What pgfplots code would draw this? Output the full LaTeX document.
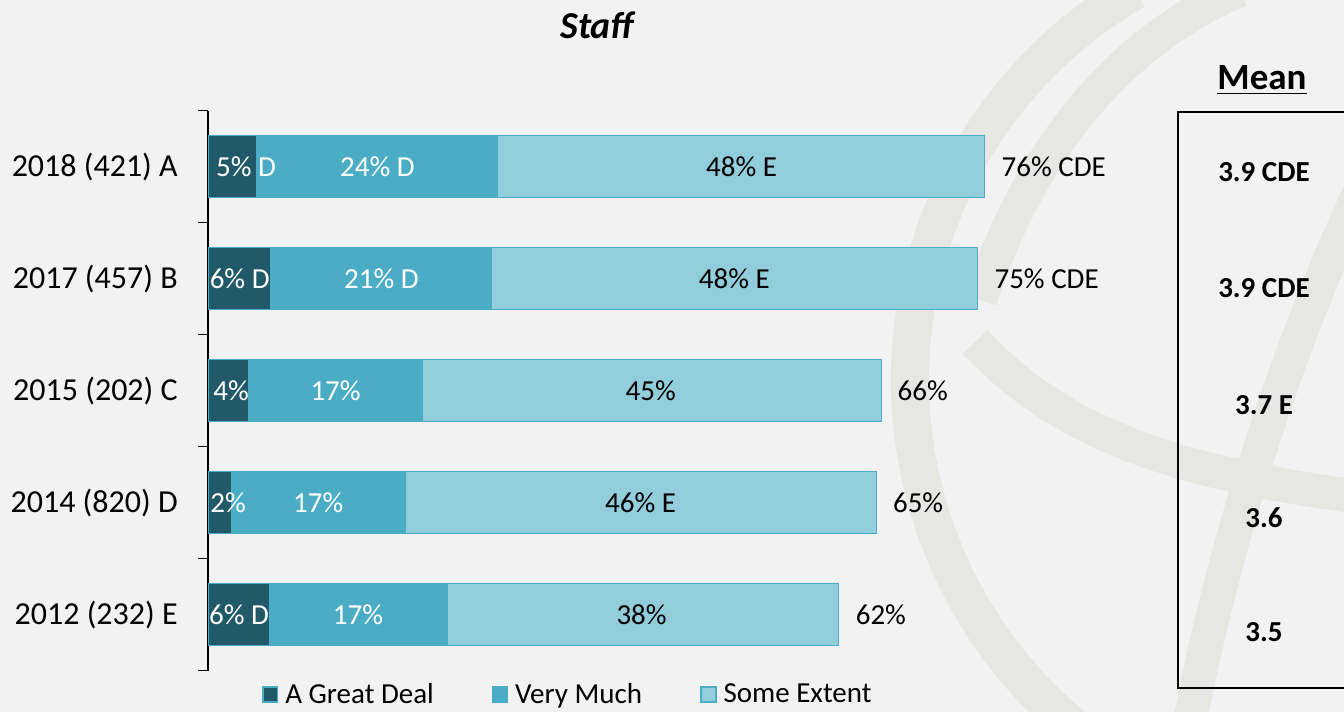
\documentclass[border=0pt]{standalone}
\usepackage{pgfplots}
\pgfplotsset{compat=1.18}
\usepackage{fontspec}
\setmainfont{Carlito}
\definecolor{bg}{HTML}{F2F2F2}
\definecolor{wm}{HTML}{E6E6E2}
\definecolor{c1}{HTML}{215968}
\definecolor{c2}{HTML}{4BACC6}
\definecolor{c3}{HTML}{92CDDC}
\newcommand{\legfont}{\fontsize{14.5}{17}\selectfont}
\tikzset{
  segw/.style={font=\legfont, inner sep=0pt, text=white},
  segb/.style={font=\legfont, inner sep=0pt, text=black},
  tot/.style={font=\legfont, inner sep=0pt, anchor=west, text=black},
  meanv/.style={font=\bfseries\fontsize{14.5}{17}\selectfont},
}
\begin{document}
\begin{tikzpicture}[x=0.5pt,y=0.5pt]
\useasboundingbox (0,0) rectangle (1344,712);
\clip (0,0) rectangle (1344,712);
\fill[bg] (0,0) rectangle (1344,712);
% faint watermark
\draw[draw=wm, line width=19pt] (1360,332) ++(120:225pt) arc[start angle=120, end angle=235, radius=225pt];
\draw[draw=wm, line width=17pt] (980,412) .. controls (1030,562) and (1120,672) .. (1240,722);
\draw[draw=wm, line width=17pt] (975,370) .. controls (1060,280) and (1170,240) .. (1360,215);
\draw[draw=wm, line width=17pt] (1360,520) .. controls (1280,350) and (1220,150) .. (1190,-10);
\begin{axis}[
  at={(204,37)}, anchor=south west,
  scale only axis, width=408pt, height=280pt,
  xbar stacked, bar width=31pt,
  xmin=0, xmax=80, ymin=-0.5, ymax=4.5,
  axis x line=none, axis y line*=left,
  axis line style={black, line width=0.9pt},
  ytick={0,...,4},
  yticklabels={2012 (232) E,2014 (820) D,2015 (202) C,2017 (457) B,2018 (421) A},
  major tick length=0pt,
  minor ytick={-0.5,0.5,1.5,2.5,3.5,4.5},
  minor tick length=5pt, tick align=outside,
  minor tick style={black, line width=0.9pt},
  yticklabel style={font=\fontsize{16}{19}\selectfont, inner sep=0pt, xshift=-15pt},
  legend style={at={(axis description cs:0.442,-0.043)}, anchor=center,
    draw=none, fill=none, font=\legfont, legend columns=3,
    /tikz/every odd column/.append style={column sep=1.5pt},
    /tikz/every even column/.append style={column sep=27pt}},
  legend image code/.code={\draw[#1, draw=c2, line width=0.8pt] (0pt,-3.7pt) rectangle (7.4pt,3.7pt);},
]
\addplot[fill=c1, draw=c2, line width=0.5pt] coordinates {(6.0,0) (2.25,1) (4.0,2) (6.1,3) (4.7,4)};
\addplot[fill=c2, draw=c2, line width=0.5pt] coordinates {(17.5,0) (17.1,1) (17.0,2) (21.7,3) (23.7,4)};
\addplot[fill=c3, draw=c2, line width=0.5pt] coordinates {(38.3,0) (46.2,1) (45.0,2) (47.6,3) (47.7,4)};
\legend{A Great Deal, Very Much, Some Extent}
\coordinate (a4) at (axis cs:3.73,4);
\coordinate (b4) at (axis cs:16.6,4);
\coordinate (c4) at (axis cs:52.3,4);
\coordinate (t4) at (axis cs:76.1,4);
\coordinate (a3) at (axis cs:3.1,3);
\coordinate (b3) at (axis cs:17.0,3);
\coordinate (c3) at (axis cs:51.6,3);
\coordinate (t3) at (axis cs:75.4,3);
\coordinate (a2) at (axis cs:2.25,2);
\coordinate (b2) at (axis cs:12.5,2);
\coordinate (c2) at (axis cs:43.4,2);
\coordinate (t2) at (axis cs:66.0,2);
\coordinate (a1) at (axis cs:1.96,1);
\coordinate (b1) at (axis cs:10.8,1);
\coordinate (c1) at (axis cs:42.4,1);
\coordinate (t1) at (axis cs:65.55,1);
\coordinate (a0) at (axis cs:3.04,0);
\coordinate (b0) at (axis cs:14.7,0);
\coordinate (c0) at (axis cs:42.5,0);
\coordinate (t0) at (axis cs:61.8,0);
\end{axis}
\node[segw] at (a4) {5\% D};
\node[segw] at (b4) {24\% D};
\node[segb] at (c4) {48\% E};
\node[segw] at (a3) {6\% D};
\node[segw] at (b3) {21\% D};
\node[segb] at (c3) {48\% E};
\node[segw] at (a2) {4\%};
\node[segw] at (b2) {17\%};
\node[segb] at (c2) {45\%};
\node[segw] at (a1) {2\%};
\node[segw] at (b1) {17\%};
\node[segb] at (c1) {46\% E};
\node[segw] at (a0) {6\% D};
\node[segw] at (b0) {17\%};
\node[segb] at (c0) {38\%};
\node[tot, xshift=8.5pt] at (t4) {76\% CDE};
\node[tot, xshift=8.5pt] at (t3) {75\% CDE};
\node[tot, xshift=8pt] at (t2) {66\%};
\node[tot, xshift=8pt] at (t1) {65\%};
\node[tot, xshift=8.5pt] at (t0) {62\%};
\node[font=\bfseries\itshape\fontsize{19}{22}\selectfont] at (597,687) {Staff};
\node[font=\bfseries\fontsize{18.5}{22}\selectfont] at (1262,632) {\underline{Mean}};
\draw[line width=1pt] (1400,600) -- (1178,600) -- (1178,24) -- (1400,24);
\node[meanv] at (1264,540) {3.9 CDE};
\node[meanv] at (1264,424) {3.9 CDE};
\node[meanv] at (1264,307) {3.7 E};
\node[meanv] at (1264,194) {3.6};
\node[meanv] at (1264,80) {3.5};
\end{tikzpicture}
\end{document}
